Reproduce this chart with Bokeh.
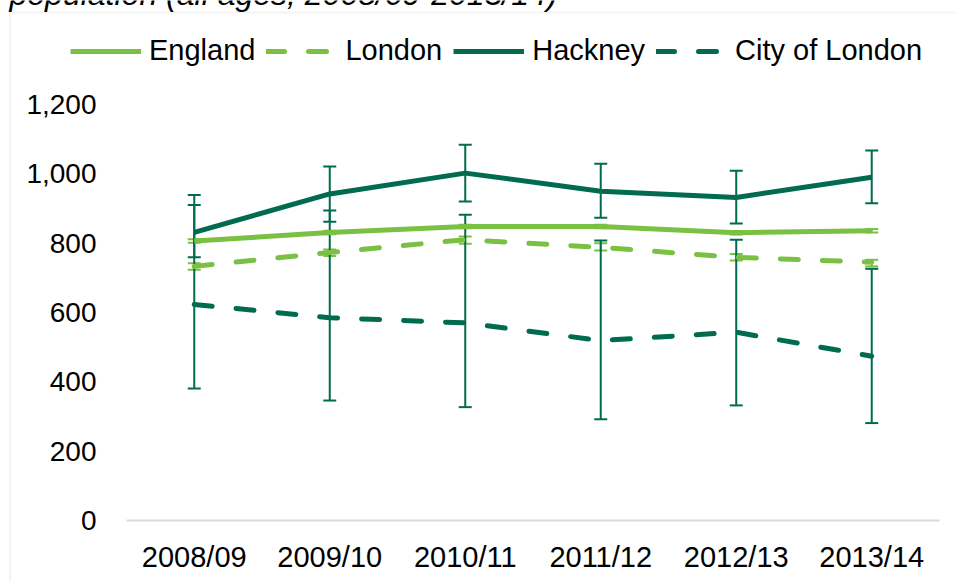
from bokeh.plotting import figure
from bokeh.models import (ColumnDataSource, Range1d, FixedTicker, LinearAxis,
                          NumeralTickFormatter, Whisker, TeeHead, Legend,
                          LegendItem, BoxAnnotation, Label)
from bokeh.embed import file_html
from bokeh.resources import INLINE

# Directly standardised rates per 100,000 with 95% confidence limits
years = ["2008/09", "2009/10", "2010/11", "2011/12", "2012/13", "2013/14"]

england = [806, 831, 848, 848, 830, 836]
england_lo = [801, 826, 843, 843, 825, 831]
england_hi = [811, 836, 853, 853, 835, 841]

london = [733, 773, 810, 788, 759, 745]
london_lo = [723, 763, 798, 779, 750, 733]
london_hi = [742, 782, 819, 800, 769, 752]

hackney = [831, 942, 1002, 950, 932, 990]
hackney_lo = [759, 862, 920, 873, 857, 915]
hackney_hi = [910, 1021, 1084, 1029, 1009, 1067]

city = [623, 585, 570, 519, 543, 474]
city_lo = [381, 346, 327, 292, 332, 281]
city_hi = [939, 894, 882, 808, 810, 726]

y_ticks = [0, 200, 400, 600, 800, 1000, 1200]

LIGHT = "#7AC143"
DARK = "#006B4F"
FONT = "Liberation Sans"

W, H = 957, 581
xs = list(range(len(years)))

# the plot frame fills the whole canvas; the axes sit inside it
p = figure(width=W, height=H, x_range=Range1d(-1.430, 5.633),
           y_range=Range1d(-176, 1500), output_backend="svg",
           toolbar_location=None, x_axis_location=None, y_axis_location=None,
           min_border=0, min_border_left=0, min_border_right=0,
           min_border_top=0, min_border_bottom=0)
p.outline_line_color = None
p.grid.visible = False

xaxis = LinearAxis(fixed_location=0, bounds=(-0.5, 5.5),
                   ticker=FixedTicker(ticks=xs),
                   major_label_overrides={i: y for i, y in zip(xs, years)})
xaxis.axis_line_color = "#D9D9D9"
xaxis.axis_line_width = 2
xaxis.major_tick_line_color = None
xaxis.minor_tick_line_color = None
xaxis.major_label_standoff = 15
xaxis.major_label_text_font = FONT
xaxis.major_label_text_font_size = "29px"
xaxis.major_label_text_color = "#000000"
p.add_layout(xaxis, "below")

yaxis = LinearAxis(fixed_location=-0.5, ticker=FixedTicker(ticks=y_ticks),
                   formatter=NumeralTickFormatter(format="0,0"))
yaxis.axis_line_color = None
yaxis.major_tick_line_color = None
yaxis.minor_tick_line_color = None
yaxis.major_label_standoff = 24
yaxis.major_label_text_font = FONT
yaxis.major_label_text_font_size = "28px"
yaxis.major_label_text_color = "#000000"
p.add_layout(yaxis, "left")


def error_bars(lo, hi, color):
    src = ColumnDataSource(dict(x=xs, lo=lo, hi=hi))
    w = Whisker(source=src, base="x", lower="lo", upper="hi",
                dimension="height", line_color=color, line_width=2,
                level="underlay",
                lower_head=TeeHead(size=13, line_color=color, line_width=2),
                upper_head=TeeHead(size=13, line_color=color, line_width=2))
    p.add_layout(w)


error_bars(england_lo, england_hi, LIGHT)
error_bars(london_lo, london_hi, LIGHT)
error_bars(hackney_lo, hackney_hi, DARK)
error_bars(city_lo, city_hi, DARK)

r_eng = p.line(xs, england, line_color=LIGHT, line_width=5)
r_lon = p.line(xs, london, line_color=LIGHT, line_width=5,
               line_dash="18 24", line_cap="round")
r_hac = p.line(xs, hackney, line_color=DARK, line_width=5)
r_cit = p.line(xs, city, line_color=DARK, line_width=5,
               line_dash="18 24", line_cap="round")

legend = Legend(items=[LegendItem(label="England", renderers=[r_eng]),
                       LegendItem(label="London", renderers=[r_lon]),
                       LegendItem(label="Hackney", renderers=[r_hac]),
                       LegendItem(label="City of London", renderers=[r_cit])],
                orientation="horizontal", location=(70, 514),
                glyph_width=71, glyph_height=28, label_standoff=8,
                spacing=11, padding=0, margin=0,
                label_text_font=FONT, label_text_font_size="29px",
                label_text_color="#000000",
                border_line_color=None, background_fill_alpha=0)
p.add_layout(legend, "center")

# chart area border
p.add_layout(BoxAnnotation(left=9.5, right=W + 100, top=H - 12, bottom=-100,
                           left_units="screen", right_units="screen",
                           top_units="screen", bottom_units="screen",
                           fill_alpha=0, line_color="#D9D9D9", line_width=2))

p.add_layout(Label(x=9, y=H + 7, x_units="screen", y_units="screen",
                   text="population (all ages, 2008/09-2013/14)",
                   text_font=FONT, text_font_style="italic",
                   text_font_size="32px", text_baseline="alphabetic",
                   text_color="#000000"))

open("out.html", "w").write(file_html(p, INLINE))
